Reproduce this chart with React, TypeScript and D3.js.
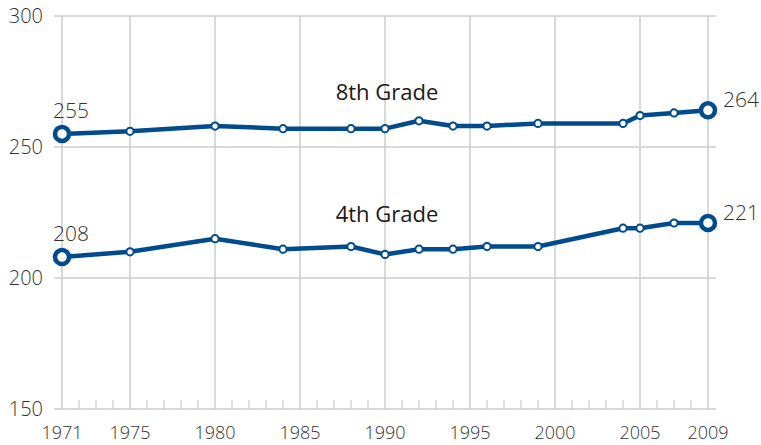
import { useEffect, useRef } from 'react';
import * as d3 from 'd3';

const years = [1971, 1975, 1980, 1984, 1988, 1990, 1992, 1994, 1996, 1999, 2004, 2005, 2007, 2009];
const grade8 = [255, 256, 258, 257, 257, 257, 260, 258, 258, 259, 259, 262, 263, 264];
const grade4 = [208, 210, 215, 211, 212, 209, 211, 211, 212, 212, 219, 219, 221, 221];
const xTickYears = [1971, 1975, 1980, 1985, 1990, 1995, 2000, 2005, 2009];
const yTicks = [150, 200, 250, 300];

const series = [
  { name: '8th Grade', values: grade8, labelY: 100 },
  { name: '4th Grade', values: grade4, labelY: 222 },
];

const BLUE = '#004b8d';
const GRID = '#cccccc';
const FONT = "'Open Sans', 'DejaVu Sans', sans-serif";

export default function App() {
  const svgRef = useRef<SVGSVGElement>(null);

  useEffect(() => {
    if (!svgRef.current) return;
    const width = 761;
    const height = 445;
    const svg = d3.select(svgRef.current);
    svg.selectAll('*').remove();

    const x = d3.scaleLinear().domain([1971, 2009]).range([62, 708]);
    const y = d3.scaleLinear().domain([150, 300]).range([409, 16]);

    // horizontal grid lines
    svg.append('g')
      .selectAll('line')
      .data(yTicks)
      .enter()
      .append('line')
      .attr('x1', 54)
      .attr('x2', 716)
      .attr('y1', d => y(d))
      .attr('y2', d => y(d))
      .attr('stroke', GRID)
      .attr('stroke-width', 1.5);

    // vertical grid lines
    svg.append('g')
      .selectAll('line')
      .data(xTickYears)
      .enter()
      .append('line')
      .attr('x1', d => x(d))
      .attr('x2', d => x(d))
      .attr('y1', y(300))
      .attr('y2', y(150))
      .attr('stroke', GRID)
      .attr('stroke-width', 1.5);

    // minor yearly ticks
    svg.append('g')
      .selectAll('line')
      .data(d3.range(1971, 2010).filter(v => !xTickYears.includes(v)))
      .enter()
      .append('line')
      .attr('x1', d => x(d))
      .attr('x2', d => x(d))
      .attr('y1', y(150) - 9)
      .attr('y2', y(150))
      .attr('stroke', GRID)
      .attr('stroke-width', 1.2);

    // y labels
    svg.append('g')
      .selectAll('text')
      .data(yTicks)
      .enter()
      .append('text')
      .attr('x', 43)
      .attr('y', d => y(d) + 7)
      .attr('text-anchor', 'end')
      .attr('font-family', FONT)
      .attr('font-weight', 300)
      .attr('font-size', 20)
      .attr('fill', '#333')
      .text(d => d);

    // x labels
    svg.append('g')
      .selectAll('text')
      .data(xTickYears)
      .enter()
      .append('text')
      .attr('x', d => x(d))
      .attr('y', 439)
      .attr('text-anchor', 'middle')
      .attr('font-family', FONT)
      .attr('font-weight', 300)
      .attr('font-size', 18)
      .attr('fill', '#333')
      .text(d => d);

    const line = d3.line<number>()
      .x((_, i) => x(years[i]))
      .y(d => y(d));

    series.forEach(s => {
      const g = svg.append('g');
      g.append('path')
        .datum(s.values)
        .attr('d', line)
        .attr('fill', 'none')
        .attr('stroke', BLUE)
        .attr('stroke-width', 4.5)
        .attr('stroke-linejoin', 'round');

      g.selectAll('circle')
        .data(s.values)
        .enter()
        .append('circle')
        .attr('cx', (_, i) => x(years[i]))
        .attr('cy', d => y(d))
        .attr('r', (_, i) => (i === 0 || i === years.length - 1 ? 7 : 3.6))
        .attr('fill', 'white')
        .attr('stroke', BLUE)
        .attr('stroke-width', (_, i) => (i === 0 || i === years.length - 1 ? 4.5 : 2));

      const first = s.values[0];
      const last = s.values[s.values.length - 1];
      g.append('text')
        .attr('x', x(years[0]) - 9)
        .attr('y', y(first) - 16)
        .attr('font-family', FONT)
        .attr('font-weight', 300)
        .attr('font-size', 21)
        .attr('fill', '#333')
        .text(first);
      g.append('text')
        .attr('x', x(years[years.length - 1]) + 15)
        .attr('y', y(last) - 3)
        .attr('font-family', FONT)
        .attr('font-weight', 300)
        .attr('font-size', 21)
        .attr('fill', '#333')
        .text(last);

      g.append('text')
        .attr('x', 387)
        .attr('y', s.labelY)
        .attr('text-anchor', 'middle')
        .attr('font-family', FONT)
        .attr('font-weight', 500)
        .attr('font-size', 22)
        .attr('fill', '#1a1a1a')
        .text(s.name);
    });

    svg.attr('width', width).attr('height', height);
  }, []);

  return (
    <div style={{ position: 'absolute', left: 0, top: 0 }}>
      <svg ref={svgRef} width={761} height={445} style={{ display: 'block' }} />
    </div>
  );
}
